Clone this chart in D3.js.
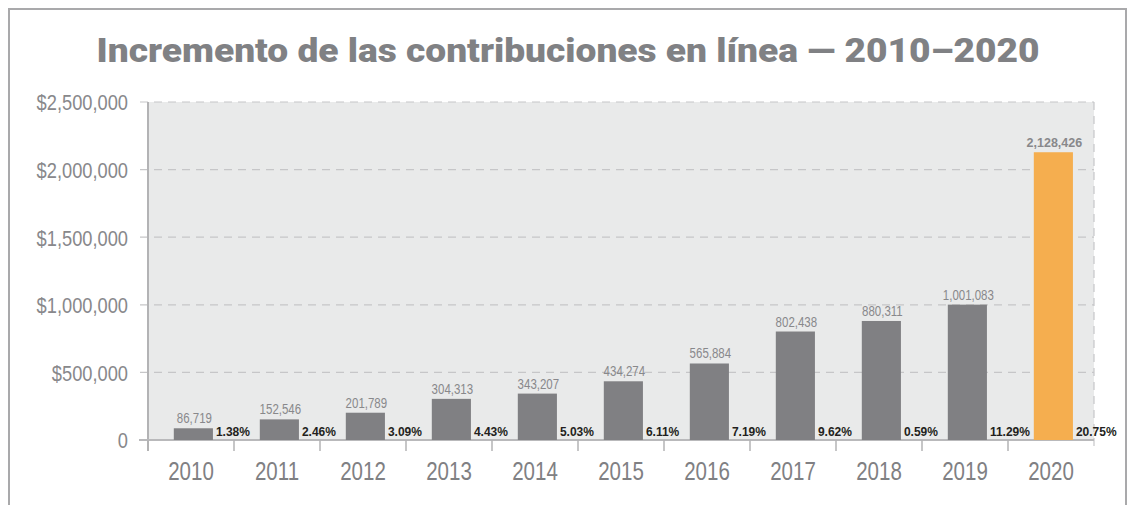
<!DOCTYPE html>
<html>
<head>
<meta charset="utf-8">
<script src="https://cdn.jsdelivr.net/npm/d3@7"></script>
<style>
  body { margin: 0; background: #fff; }
  svg { display: block; }
</style>
</head>
<body>
<div id="chart"></div>
<script>
// Data
var years = ["2010", "2011", "2012", "2013", "2014", "2015", "2016", "2017", "2018", "2019", "2020"];
var amounts = [86719, 152546, 201789, 304313, 343207, 434274, 565884, 802438, 880311, 1001083, 2128426];
var percents = ["1.38%", "2.46%", "3.09%", "4.43%", "5.03%", "6.11%", "7.19%", "9.62%", "0.59%", "11.29%", "20.75%"];
var yTicks = [0, 500000, 1000000, 1500000, 2000000, 2500000];

var data = years.map(function(y, i) {
    return {year: y, value: amounts[i], pct: percents[i]};
});

var width = 1131, height = 505;
var margin = {top: 102, right: 37, bottom: 65, left: 148};
var innerWidth = width - margin.left - margin.right,
    innerHeight = height - margin.top - margin.bottom;

var sans = "'Liberation Sans', Arial, sans-serif";

// squeeze a text horizontally to mimic the condensed face of the original
function condense(sel, factor) {
    sel.each(function() {
        var len = this.getComputedTextLength();
        d3.select(this)
            .attr("textLength", len * factor)
            .attr("lengthAdjust", "spacingAndGlyphs");
    });
}

var svg = d3.select("#chart").append("svg")
    .attr("width", width)
    .attr("height", height);

// outer frame (bottom edge is outside the picture)
svg.append("path")
    .attr("d", "M9," + height + "V9H1126V" + height)
    .attr("fill", "none")
    .attr("stroke", "#a9a9ab")
    .attr("stroke-width", 2);

// title
var title = svg.append("text")
    .attr("x", 568)
    .attr("y", 62)
    .attr("text-anchor", "middle")
    .style("font-family", "Roboto, " + sans)
    .style("font-weight", 900)
    .style("font-size", "33px")
    .style("fill", "#808184")
    .text("Incremento de las contribuciones en línea — 2010–2020");
title.attr("textLength", 943).attr("lengthAdjust", "spacingAndGlyphs");

var g = svg.append("g")
    .attr("transform", "translate(" + margin.left + "," + margin.top + ")");

var x = d3.scaleBand()
    .domain(years)
    .range([0, innerWidth]);

var y = d3.scaleLinear()
    .domain([0, 2500000])
    .range([innerHeight, 0]);

// plot background
g.append("rect")
    .attr("width", innerWidth)
    .attr("height", innerHeight)
    .attr("fill", "#e9eaea");

// gridlines
g.selectAll(".grid")
    .data(yTicks.slice(1))
    .enter().append("line")
    .attr("class", "grid")
    .attr("x1", -8)
    .attr("x2", innerWidth)
    .attr("y1", function(d) { return y(d); })
    .attr("y2", function(d) { return y(d); })
    .attr("stroke", "#c6c6c8")
    .attr("stroke-width", 1.2)
    .attr("stroke-dasharray", "8,6");

// right dashed edge
g.append("line")
    .attr("x1", innerWidth).attr("x2", innerWidth)
    .attr("y1", 0).attr("y2", innerHeight + 11)
    .attr("stroke", "#c6c6c8")
    .attr("stroke-width", 1.2)
    .attr("stroke-dasharray", "8,6");

// y axis
var yAxis = g.append("g")
    .call(d3.axisLeft(y)
        .tickValues(yTicks)
        .tickSize(0)
        .tickPadding(20)
        .tickFormat(function(d) { return d === 0 ? "0" : "$" + d3.format(",")(d); }));
yAxis.select(".domain").remove();
yAxis.selectAll("text")
    .attr("dy", "0.36em")
    .style("font-family", sans)
    .style("font-size", "22px")
    .style("fill", "#88888b")
    .call(condense, 0.83);

// left axis line
g.append("line")
    .attr("x1", 0).attr("x2", 0)
    .attr("y1", 0).attr("y2", innerHeight + 11)
    .attr("stroke", "#b3b3b5")
    .attr("stroke-width", 2);

// baseline and zero tick
g.append("line")
    .attr("x1", -9).attr("x2", innerWidth)
    .attr("y1", y(0)).attr("y2", y(0))
    .attr("stroke", "#b9b9bb")
    .attr("stroke-width", 2);

// x axis ticks at band edges
var xAxis = g.append("g")
    .attr("transform", "translate(0," + innerHeight + ")");
xAxis.selectAll(".xtick")
    .data(years)
    .enter().append("line")
    .attr("class", "xtick")
    .attr("x1", function(d) { return x(d); })
    .attr("x2", function(d) { return x(d); })
    .attr("y1", 0).attr("y2", 11)
    .attr("stroke", "#b3b3b5")
    .attr("stroke-width", 1.5);
xAxis.selectAll(".xlabel")
    .data(years)
    .enter().append("text")
    .attr("class", "xlabel")
    .attr("x", function(d) { return x(d) + x.bandwidth() / 2; })
    .attr("y", 40)
    .attr("text-anchor", "middle")
    .style("font-family", sans)
    .style("font-size", "25px")
    .style("fill", "#808083")
    .text(function(d) { return d; })
    .call(condense, 0.82);

// bars
var barOffset = x.bandwidth() * 0.3,
    barWidth = x.bandwidth() * 0.455;

var bar = g.selectAll(".bar")
    .data(data)
    .enter().append("g")
    .attr("class", "bar");

bar.append("rect")
    .attr("x", function(d) { return x(d.year) + barOffset; })
    .attr("y", function(d) { return y(d.value); })
    .attr("width", barWidth)
    .attr("height", function(d) { return y(0) - y(d.value); })
    .attr("fill", function(d) { return d.year === "2020" ? "#f5ae4f" : "#808083"; });

// value labels
bar.append("text")
    .attr("x", function(d) { return x(d.year) + barOffset + barWidth / 2 + 1; })
    .attr("y", function(d) { return y(d.value) - 5; })
    .attr("text-anchor", "middle")
    .style("font-family", sans)
    .style("font-weight", function(d) { return d.year === "2020" ? "bold" : "normal"; })
    .style("font-size", function(d) { return d.year === "2020" ? "12.5px" : "14px"; })
    .style("fill", "#88888b")
    .text(function(d) { return d3.format(",")(d.value); })
    .each(function(d) {
        if (d.year !== "2020") d3.select(this).call(condense, 0.82);
    });

// percent labels
bar.append("text")
    .attr("x", function(d) { return x(d.year) + barOffset + barWidth + 3; })
    .attr("y", y(0) - 4.5)
    .style("font-family", sans)
    .style("font-weight", "bold")
    .style("font-size", "12px")
    .style("fill", "#231f20")
    .text(function(d) { return d.pct; });
</script>
</body>
</html>
